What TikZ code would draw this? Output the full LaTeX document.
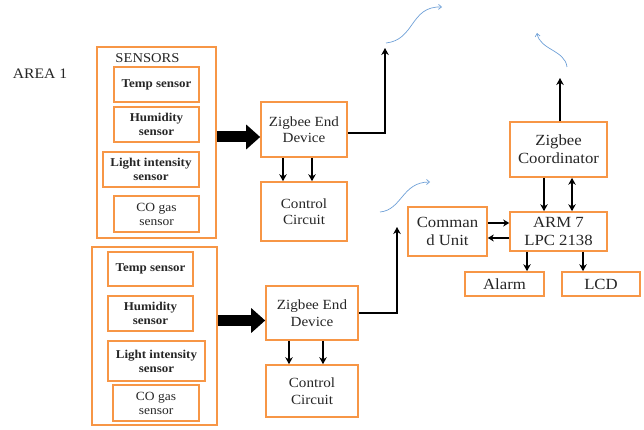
\documentclass[tikz,border=0pt]{standalone}
\usepackage{fontspec}
\setmainfont{Liberation Serif}[FakeStretch=1.08]
\usetikzlibrary{arrows.meta}
\definecolor{boxorange}{RGB}{247,150,70}
\definecolor{wireblue}{RGB}{110,160,215}
\begin{document}
\begin{tikzpicture}[x=1pt,y=-1pt,
  every node/.style={text=black!85},
  box/.style={draw=boxorange, line width=1.6pt, align=center, inner sep=1pt,
    font=\fontsize{14}{16.5}\selectfont},
  bigbox/.style={box, font=\fontsize{15.5}{18}\selectfont},
  sensor/.style={box, font=\fontsize{12}{14}\selectfont\bfseries},
  arr/.style={-{Stealth[length=7pt,width=7.5pt]}, line width=1.5pt},
  thickarr/.style={-{Stealth[length=6pt,width=7pt]}, line width=2.4pt},
  bigarr/.style={-{Triangle[length=14pt,width=24pt]}, line width=11pt},
  wave/.style={wireblue, line width=0.7pt, -{Straight Barb[length=3pt,width=5pt]}}]
  \useasboundingbox (0,0) rectangle (644,430);
  % Area 1
  \node[font=\fontsize{14.5}{17}\selectfont] (area1) at (40,74) {AREA 1};
  \node[box, minimum width=119, minimum height=191] (sens1) at (156.5,142.5) {};
  \node[font=\fontsize{13.5}{16}\selectfont] (sens1lbl) at (147.5,58) {SENSORS};
  \node[sensor, minimum width=85, minimum height=35] (temp1) at (156.5,84.5) {Temp sensor};
  \node[sensor, minimum width=85, minimum height=35] (hum1) at (156.5,124.5) {Humidity\\sensor};
  \node[sensor, minimum width=96, minimum height=35] (light1) at (151,169.5) {Light intensity\\sensor};
  \node[sensor, font=\fontsize{12.5}{14}\selectfont, minimum width=85, minimum height=36] (co1) at (156.5,214) {CO gas\\sensor};
  \node[box, minimum width=86, minimum height=55] (zed1) at (304,129.5) {Zigbee End\\Device};
  \node[box, minimum width=86, minimum height=59] (cc1) at (304,211.5) {Control\\Circuit};
  % Area 2
  \node[box, minimum width=125, minimum height=178] (sens2) at (154.5,336) {};
  \node[sensor, minimum width=85, minimum height=34] (temp2) at (150.5,269) {Temp sensor};
  \node[sensor, minimum width=85, minimum height=35] (hum2) at (150.5,313.5) {Humidity\\sensor};
  \node[sensor, minimum width=97, minimum height=40] (light2) at (156.5,361) {Light intensity\\sensor};
  \node[sensor, font=\fontsize{12.5}{14}\selectfont, minimum width=86, minimum height=36] (co2) at (156,403) {CO gas\\sensor};
  \node[box, minimum width=92, minimum height=54] (zed2) at (312,313) {Zigbee End\\Device};
  \node[box, minimum width=92, minimum height=52] (cc2) at (312,391) {Control\\Circuit};
  % Coordinator side
  \node[bigbox, minimum width=97, minimum height=55] (coord) at (558.5,149.5) {Zigbee\\Coordinator};
  \node[bigbox, minimum width=97, minimum height=39] (arm) at (558.5,231.5) {ARM 7\\LPC 2138};
  \node[bigbox, minimum width=79, minimum height=49] (cmd) at (447.5,231.5) {Comman\\d Unit};
  \node[bigbox, minimum width=79, minimum height=24] (alarm) at (504.5,284) {Alarm};
  \node[bigbox, minimum width=78, minimum height=24] (lcd) at (601,284) {LCD};
  \coordinate (up1) at (385,48);
  \coordinate (up2) at (397,227);
  \coordinate (up3) at (560,78);
  % Arrows
  \draw[bigarr] ([yshift=5.5pt]sens1.east) -- ([yshift=5.5pt]sens1.east -| zed1.west);
  \draw[bigarr] ([yshift=15.5pt]sens2.east) -- ([yshift=15.5pt]sens2.east -| zed2.west);
  \draw[arr] ([xshift=-21pt]zed1.south) -- ([xshift=-21pt]zed1.south |- cc1.north);
  \draw[arr] ([xshift=8pt]zed1.south) -- ([xshift=8pt]zed1.south |- cc1.north);
  \draw[arr] ([xshift=-23pt]zed2.south) -- ([xshift=-23pt]zed2.south |- cc2.north);
  \draw[arr] ([xshift=11pt]zed2.south) -- ([xshift=11pt]zed2.south |- cc2.north);
  \draw[arr] ([yshift=-3.5pt]zed1.east) -| (up1);
  \draw[arr] (zed2.east) -| (up2);
  \draw[arr] (coord.north -| up3) -- (up3);
  \draw[arr] ([xshift=-14.5pt]coord.south) -- ([xshift=-14.5pt]coord.south |- arm.north);
  \draw[arr, {Stealth[length=7pt,width=7.5pt]}-{Stealth[length=7pt,width=7.5pt]}]
    ([xshift=13.5pt]coord.south) -- ([xshift=13.5pt]coord.south |- arm.north);
  \draw[thickarr] ([yshift=8.5pt]cmd.east) -- ([yshift=8.5pt]cmd.east -| arm.west);
  \draw[thickarr] ([yshift=-6.5pt]arm.west) -- ([yshift=-6.5pt]arm.west -| cmd.east);
  \draw[arr] ([xshift=-31.5pt]arm.south) -- ([xshift=-31.5pt]arm.south |- alarm.north);
  \draw[arr] ([xshift=24.5pt]arm.south) -- ([xshift=24.5pt]arm.south |- lcd.north);
  % Wireless
  \draw[wave] (386,43) .. controls (415,40) and (410,6) .. (442,7);
  \draw[wave] (380,212) .. controls (402,210) and (402,182) .. (430,182);
  \draw[wave] (567,67) .. controls (565,50) and (540,50) .. (537,33);
\end{tikzpicture}
\end{document}
